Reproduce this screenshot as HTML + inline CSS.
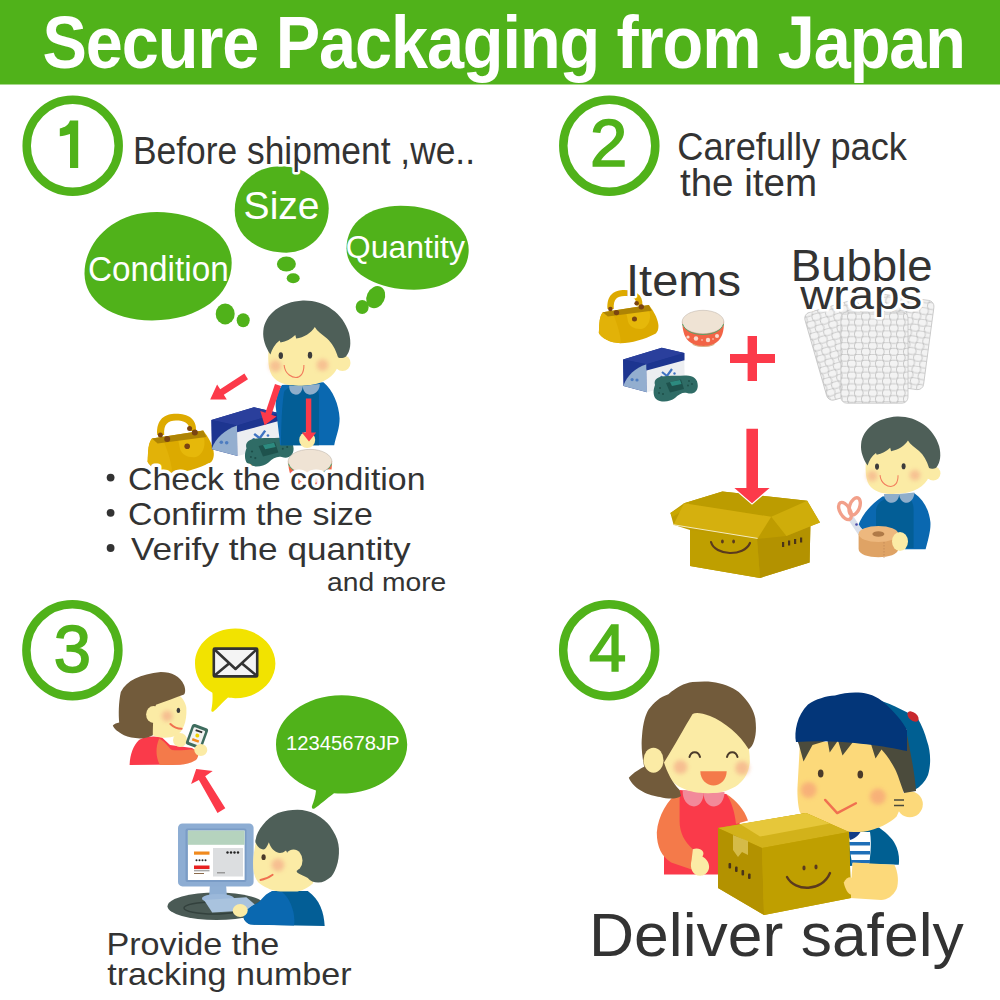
<!DOCTYPE html>
<html><head><meta charset="utf-8">
<style>
html,body{margin:0;padding:0;background:#fff;}
svg{display:block;}
text{font-family:"Liberation Sans",sans-serif;}
</style></head>
<body>
<svg width="1000" height="1000" viewBox="0 0 1000 1000">
<defs>
  <filter id="blur" x="-50%" y="-50%" width="200%" height="200%"><feGaussianBlur stdDeviation="2.2"/></filter>

  <g id="boyhead">
    <circle cx="92.5" cy="63" r="8" fill="#FBEBA5"/>
    <path d="M19.5,42 C17,58 18,72 24,78 C32,86 44,86 55,85.5 C70,85 84,78 88,66 L89,50 L86,30 L60,18 L30,30 Z" fill="#FBEBA5"/>
    <path d="M20.4,54.5 C15.5,47 12.5,39 13.3,31 C15,14 31,2 52.8,0.6 C74,0 93,13 99,33 C101.5,43 100.5,51 96,56.5 C93,58.5 90,58.5 88,57.2 C85.5,49 82,43 77,38.5 C72,34.5 67,31 64.8,27 C61,33 54,37.5 46.2,38.6 L45.3,35 C41,39 36,41.5 30.5,42.5 L29.6,40.6 C25,44 22,49 20.4,54.5 Z" fill="#4E5F58"/>
    <circle cx="25.5" cy="66" r="6" fill="#F5B48C" opacity="0.75" filter="url(#blur)"/>
    <circle cx="72.5" cy="65" r="6" fill="#F5B48C" opacity="0.75" filter="url(#blur)"/>
    <ellipse cx="30.8" cy="55.6" rx="2.2" ry="3.4" fill="#3C3C3C"/>
    <ellipse cx="60" cy="55.2" rx="2.2" ry="3.4" fill="#3C3C3C"/>
    <path d="M34.1,65 C35,75 43,77.5 46,77.5 C50,77.5 54,74 53.9,65" fill="none" stroke="#F27A5C" stroke-width="1.1"/>
  </g>
  <g id="bag">
    <path d="M17.2,30 C16,14 25,8.8 36,8.8 C48,8.8 57,14 56,26 L49.5,26 C50,18 44,15.5 36,15.5 C28,15.5 23.5,19 24.2,30 Z" fill="#DDAA00"/>
    <path d="M8,48 C8.5,40 10,36 12,33.6 L63.2,25.6 C68,32 72,38 73.6,46.4 C74.5,52 72.5,56 70.4,57.6 C58,64 44,68 32,68 C20,68 10,62 7.6,56.8 Z" fill="#DCAA00"/>
    <path d="M24,37 C30,52 32,62 32,68 C20,68 10,62 7.6,56.8 L8,48 C8.5,40 10,36 12,33.6 Z" fill="#E2B208"/>
    <path d="M38,34 C50,31 60,30 64,33 C66,42 62,50 56,52 C48,53 42,50 40,44 Z" fill="#E6B80A"/>
    <path d="M12,33.6 L63.2,25.6 L66.4,32 L17.6,38.4 Z" fill="#AE8404"/>
    <g fill="#7A4412">
      <circle cx="20.4" cy="30" r="2.5"/><circle cx="27.2" cy="34" r="3"/>
      <circle cx="49.6" cy="23.6" r="2.5"/><circle cx="54.8" cy="27.6" r="3"/>
      <circle cx="47.2" cy="41.2" r="2.8"/>
    </g>
  </g>
  <g id="gamebox">
    <path d="M8.1,19.4 L46.8,7.7 L69.3,13.1 L69.3,20.3 L31.5,30.6 L8.6,45.9 Z" fill="#1D3590"/>
    <path d="M8.1,19.4 L46.8,7.7 L69.3,13.1 L31.5,24.3 Z" fill="#2A3F9C"/>
    <path d="M8.1,19.4 L31.5,24.3 L32,52.2 L8.6,45.9 Z" fill="#1D3590"/>
    <path d="M8.6,45 C12,36 20,28 31.5,24.3 L32,52.2 L8.6,45.9 Z" fill="#93AECF"/>
    <path d="M31.5,29.5 L69.3,19.3 L69.7,42.3 L32,52.2 Z" fill="#ECEEF1"/>
    <path d="M31.5,24.3 L69.3,13.1 L69.3,20.3 L31.5,30.6 Z" fill="#1D3590"/>
    <path d="M47,32 L52,36 L57,29" fill="none" stroke="#3F73C2" stroke-width="2.2"/>
    <circle cx="46.5" cy="37" r="1.2" fill="#3F73C2"/><circle cx="59.5" cy="33.5" r="1.2" fill="#3F73C2"/>
    <circle cx="17.1" cy="39.6" r="1.6" fill="#4D7CC0"/><circle cx="22" cy="40" r="1.6" fill="#4D7CC0"/>
    <path d="M40,45 C38,39 44,36 52,36 C58,35.5 64,36 70,35.5 C78,35 83,39 82.8,46 C82.5,52 78,55 72,53 C68,52 64,54 60,58 C55,62 46,63 41,59 C38,56 38,50 40,45 Z" fill="#2F6C66"/>
    <path d="M51,43 L66,39.5 L69,49 L55,52.5 Z" fill="#1E524D"/>
    <path d="M55,42 L65,40 L66.5,44 L57,46 Z" fill="#2C8A7F"/>
    <g fill="#1E4E49"><circle cx="45" cy="48" r="1"/><circle cx="48" cy="54" r="1"/><circle cx="44" cy="53" r="0.9"/><circle cx="74" cy="41" r="0.9"/><circle cx="77" cy="44" r="0.9"/><circle cx="73" cy="45.5" r="0.9"/></g>
  </g>
  <g id="bowl">
    <path d="M7.2,16.5 C7.5,27 10,34 15.5,37.5 L18.7,39.6 C22,41.5 25,41.8 28.6,41.8 C32,41.8 35,41.5 38.5,39.6 L42,37 C47,33 49,27 49,16.5 Z" fill="#F26446"/>
    <path d="M16.5,37.5 C20,42 37,42 40.5,37.5 L39,40 C35,42.5 22,42.5 18,40 Z" fill="#D8B48A"/>
    <ellipse cx="28" cy="17" rx="20.9" ry="11.7" fill="#EFE3D4" stroke="#B8AFA5" stroke-width="0.5"/>
    <path d="M7.5,19 C10,26 18,29.5 28,29.5 C38,29.5 46,26 48.6,19" fill="none" stroke="#4DA86A" stroke-width="0.9"/>
    <g fill="#FCE7DC" opacity="0.9"><circle cx="13" cy="32" r="1.6"/><circle cx="21" cy="33.5" r="2.2"/><circle cx="33" cy="35" r="2.2"/><circle cx="42" cy="31" r="2"/><circle cx="27" cy="35" r="0.8"/><circle cx="38" cy="34" r="0.8"/></g>
  </g>
  <g id="arrowhead"><path d="M-8,0 L8,0 L0,10 Z"/></g>

  <pattern id="bub" x="0" y="0" width="14" height="11.8" patternUnits="userSpaceOnUse">
    <rect width="14" height="11.8" fill="#F3F3F3"/>
    <rect x="0.5" y="0.3" width="8.6" height="6.8" rx="2.6" fill="none" stroke="#ABABAB" stroke-width="0.6"/>
    <rect x="7.5" y="6.2" width="8.6" height="6.8" rx="2.6" fill="none" stroke="#ABABAB" stroke-width="0.6"/>
    <rect x="-6.5" y="6.2" width="8.6" height="6.8" rx="2.6" fill="none" stroke="#ABABAB" stroke-width="0.6"/>
    <rect x="7.5" y="-5.6" width="8.6" height="6.8" rx="2.6" fill="none" stroke="#ABABAB" stroke-width="0.6"/>
    <rect x="-6.5" y="-5.6" width="8.6" height="6.8" rx="2.6" fill="none" stroke="#ABABAB" stroke-width="0.6"/>
  </pattern>
</defs>
<rect width="1000" height="1000" fill="#fff"/>
<!-- header -->
<rect x="0" y="0" width="1000" height="84.5" fill="#50B21A"/>
<g transform="translate(42.5,68) scale(0.9,1)"><text x="0" y="0" font-size="74" font-weight="bold" fill="#fff" textLength="1026" lengthAdjust="spacing">Secure Packaging from Japan</text></g>

<!-- number circles -->
<g fill="none" stroke="#50B21A" stroke-width="8.5">
  <circle cx="72.7" cy="145.8" r="46"/>
  <circle cx="609.3" cy="145.7" r="46"/>
  <circle cx="72.4" cy="650.3" r="46"/>
  <circle cx="609.2" cy="650.3" r="46"/>
</g>
<path d="M70,120.6 L78.2,120.6 L78.2,168 L70,168 L70,134 C66.5,135 63,136 59.8,136.3 L59.8,128.4 C65,127.6 68.5,125 70,120.6 Z" fill="#50B21A"/>
<g fill="#50B21A" stroke="#50B21A" stroke-width="1.6" font-size="67" text-anchor="middle">
  <text x="608.7" y="166.3">2</text>
  <text x="72.4" y="671.7">3</text>
  <text x="607.6" y="671">4</text>
</g>

<!-- thought bubbles step 1 -->
<g fill="#50B21A">
  <path d="M84.5,274 C84,245 110,212 156.8,212 C200,212 231.7,235 231.7,262.8 C231.7,295 200,320.4 152,320.4 C110,320.4 85,300 84.5,274 Z"/>
  <path d="M234.7,210.4 C234.7,184 255,166.3 281,166.3 C307,166.3 328.7,185 328.7,208.6 C328.7,233 310,252.7 286.4,252.7 C258,252.7 234.7,236 234.7,210.4 Z"/>
  <path d="M346.5,248.5 C346.5,222 370,205.8 400.5,205.8 C440,205.8 468.7,225 468.7,250 C468.7,275 445,289.7 414,289.7 C375,289.7 346.5,272 346.5,248.5 Z"/>
  <ellipse cx="225.2" cy="313.9" rx="9.5" ry="10.5"/>
  <ellipse cx="243.2" cy="320.2" rx="6.5" ry="7"/>
  <ellipse cx="286.4" cy="264" rx="9.5" ry="7.5"/>
  <ellipse cx="293.2" cy="278.2" rx="6.5" ry="5"/>
  <ellipse cx="375.7" cy="297.2" rx="9" ry="11.5" transform="rotate(25 375.7 297.2)"/>
  <ellipse cx="362.2" cy="307" rx="6.5" ry="7"/>
</g>
<g fill="#fff">
  <text x="88.0" y="281.2" font-size="35" textLength="140.7" lengthAdjust="spacingAndGlyphs">Condition</text>
  <text x="243.6" y="219.4" font-size="39" textLength="76.0" lengthAdjust="spacingAndGlyphs">Size</text>
  <text x="345.8" y="257.5" font-size="32" textLength="119.2" lengthAdjust="spacingAndGlyphs">Quantity</text>
</g>


<!-- step texts -->
<g fill="#333">
  <text x="133.0" y="163.5" font-size="38" stroke="#fff" stroke-width="5" paint-order="stroke" stroke-linejoin="round" textLength="342.0" lengthAdjust="spacingAndGlyphs">Before shipment ,we..</text>
  <text x="677.2" y="160" font-size="38" textLength="229.8" lengthAdjust="spacingAndGlyphs">Carefully pack</text>
  <text x="680.0" y="196.3" font-size="38" textLength="137.0" lengthAdjust="spacingAndGlyphs">the item</text>
</g>


<!-- step 1 illustration -->
<g id="step1art">
  <use href="#bag" x="0" y="0" transform="translate(140,405)"/>
  <use href="#gamebox" transform="translate(202.5,398.7) scale(1.1)"/>
  <!-- boy body -->
  <path d="M282,384.9 C277,392 275.5,400 275.7,406.5 L280.2,445.2 L334.2,445.2 C336,436 339.8,428 339.6,418.2 C339,405 333,390 323.4,382.2 Z" fill="#0A68B0"/>
  <path d="M284,392 C286,388 292,386 300,386 L314,386 C318,388 319,392 319,398 L319,445.2 L281,445.2 C281,425 282,405 284,392 Z" fill="#035E96"/>
  <use href="#boyhead" transform="translate(250,300)"/>
  <path d="M289.2,386 C289,392 293,395 297,394.6 C300,394.4 302.5,391 302.7,386 Z M302.7,386 C303,392 307,395 311,394.6 C316,394 319.8,390 319.8,384 Z" fill="#8FAECB"/>
  <circle cx="307.2" cy="440" r="8" fill="#FBEBA5"/>
  <g fill="#FC3A4A">
    <path d="M244.4,373.6 L220.2,389.2 L217.1,384.5 L210.2,399.6 L226.8,399.6 L223.8,394.8 L248.0,379.2 Z"/>
    <path d="M275.0,384.0 L265.4,412.8 L260.3,411.1 L264.6,425.2 L276.5,416.5 L271.4,414.8 L281.0,386.0 Z"/>
    <path d="M305.9,398.4 L311.3,398.4 L311.3,432.6 L316.2,432.6 L309,441.6 L301.8,432.6 L305.9,432.6 Z"/>
  </g>
  <use href="#bowl" transform="translate(280.6,443.8) scale(1.05)"/>
</g>

<!-- bullets -->
<g fill="#333">
  <circle cx="110.6" cy="477.6" r="3.9"/>
  <circle cx="110.6" cy="512.8" r="3.9"/>
  <circle cx="110.6" cy="548" r="3.9"/>
  <text x="128.0" y="489.8" font-size="32" stroke="#fff" stroke-width="7" paint-order="stroke" stroke-linejoin="round" textLength="297.5" lengthAdjust="spacingAndGlyphs">Check the condition</text>
  <text x="128.0" y="524.8" font-size="32" textLength="244.8" lengthAdjust="spacingAndGlyphs">Confirm the size</text>
  <text x="131.0" y="560" font-size="32" textLength="279.6" lengthAdjust="spacingAndGlyphs">Verify the quantity</text>
  <text x="327.0" y="590.9" font-size="26" textLength="119.3" lengthAdjust="spacingAndGlyphs">and more</text>
</g>


<!-- step 2 illustration -->
<g id="step2art">
  <use href="#bag" transform="translate(592,282) scale(0.9)"/>
  <use href="#bowl" transform="translate(675,305)"/>
  <use href="#gamebox" transform="translate(615,340)"/>
  <!-- bubble wraps -->
  <g stroke="#C4C4C4" stroke-width="0.8">
    <rect x="0" y="-91" width="56" height="91" rx="6" fill="url(#bub)" transform="translate(828.4,401.6) rotate(-16)"/>
    <rect x="-56" y="-90" width="56" height="90" rx="6" fill="url(#bub)" transform="translate(922.8,390.4) rotate(7.6)"/>
    <rect x="840.9" y="312" width="67.1" height="91.2" rx="6" fill="url(#bub)" style="fill:url(#bub)"/>
  </g>
  <!-- arrow down -->
  <path d="M757.6,538.4 L771.2,516.8 L786.4,536 Z" fill="#B99900"/>
  <!-- open box -->
  <path d="M670.4,513 L684,503.2 L722.4,491.5 L807.2,500.8 L820,522.4 L810.4,526 L809.6,562.4 L760,578 L690,566 L690,530 L673.6,524.8 Z" fill="#BE9C00"/>
  <path d="M684,503.2 L722.4,491.5 L807.2,500.8 L771.2,516.8 Z" fill="#BC9C00"/>
  <path d="M670.4,513 L688.6,502.4 L690,506 L672.4,517 Z" fill="#C9A700"/>
  <path d="M757,539 L786.4,536 L810.4,526 L809.6,562.4 L760,578 Z" fill="#B39200"/>
  <path d="M690,530 L757,539 L760,578 L690,566 Z" fill="#BF9F00"/>
  <path d="M771.2,516.8 L807.2,500.8 L820,522.4 L786.4,536 Z" fill="#CFAD0A"/>
  <path d="M673.6,524.8 L684,503.2 L771.2,516.8 L757.6,538.4 Z" fill="#D5B00E"/>
  <path d="M673.6,524.8 L757.6,538.4" stroke="#F4EBC0" stroke-width="1"/>
  <path d="M746.4,428.8 L758,428.8 L758,488 L769.6,488 L752,503.2 L734.4,488 L746.4,488 Z" fill="#FC3A4A" stroke="#fff" stroke-width="2.5" paint-order="stroke" stroke-linejoin="miter"/>
  <path d="M711,542 C715,556 744,557 750,543" fill="none" stroke="#5A3A1E" stroke-width="2.2" stroke-linecap="round"/>
  <ellipse cx="722.4" cy="541.5" rx="1.4" ry="2" fill="#5A3A1E"/><ellipse cx="733.6" cy="541.5" rx="1.4" ry="2" fill="#5A3A1E"/>
  <g fill="#4A3418"><rect x="782" y="542" width="2.2" height="5"/><rect x="788" y="540.5" width="2.2" height="5"/><rect x="794" y="539" width="2.2" height="5"/><rect x="800" y="537.5" width="2.2" height="5"/></g>
  <!-- boy 2 -->
  <path d="M882.4,496.4 C870,505 862,515 858,526 L872,536 C880,530 888,528 904.8,549.2 L925.6,549.2 C928,540 931,530 930.4,522 C929,510 924,500 914.4,493.2 Z" fill="#0A68B0"/>
  <path d="M876,510 C877,503 882,499 890,498 L906,497 C911,498 913.6,503 913.6,510 L913.6,548 L876,548 Z" fill="#035E96"/>
  <use href="#boyhead" transform="translate(849,416) scale(0.91)"/>
  <path d="M884,494 C884,500 888,503 892,502.8 C896,502.6 899,499 899.2,494 Z M899.2,494 C899.5,500 903,503 907,502.8 C911,502.4 914.4,498 914.4,492.5 Z" fill="#8FAECB"/>
  <!-- scissors -->
  <path d="M851.5,519 L860.5,532.5" stroke="#D9DFEA" stroke-width="6" stroke-linecap="round"/>
  <circle cx="856.5" cy="524.5" r="1.3" fill="#4A4AA8"/>
  <g fill="none" stroke="#F2A08A" stroke-width="3.4">
    <ellipse cx="845" cy="511" rx="5" ry="9.5" transform="rotate(-30 845 511)"/>
    <ellipse cx="854.7" cy="506.4" rx="5" ry="9" transform="rotate(20 854.7 506.4)"/>
  </g>
  <!-- tape -->
  <path d="M858.6,534 L858.6,549 C858.6,560 898.2,560 898.2,549 L898.2,534 Z" fill="#DFA365"/>
  <ellipse cx="878.4" cy="534" rx="19.8" ry="8" fill="#EDB87E"/>
  <ellipse cx="878.4" cy="534" rx="6" ry="2.8" fill="#B07A48"/>
  <path d="M884,542 L884,558" stroke="#B98250" stroke-width="0.6" stroke-dasharray="1.5,1.5"/>
  <ellipse cx="900" cy="541.5" rx="8" ry="9.5" fill="#FBEBA5"/>
</g>

<!-- step 2 labels -->
<g fill="#333">
  <text x="626.0" y="295.5" font-size="45" stroke="#fff" stroke-width="5" paint-order="stroke" stroke-linejoin="round" textLength="115.0" lengthAdjust="spacingAndGlyphs">Items</text>
  <text x="790.8" y="280.8" font-size="44" textLength="141.8" lengthAdjust="spacingAndGlyphs">Bubble</text>
  <text x="800.2" y="308.8" font-size="40" stroke="#fff" stroke-width="5" paint-order="stroke" stroke-linejoin="round" textLength="122.0" lengthAdjust="spacingAndGlyphs">wraps</text>
</g>
<!-- plus -->
<g fill="#FC3A4A">
  <rect x="747.6" y="336" width="9.4" height="45"/>
  <rect x="730" y="354" width="45" height="9"/>
</g>

<!-- step 3 bubbles -->

<!-- step 3 illustration -->
<g id="step3art">
  <!-- girl with phone -->
  <path d="M129.6,765 C130,755 133,746 139,740 C146,736 155,736 162,737.5 L170,745 L192,748 L198,752 C197,758 190,763 180,764.5 Z" fill="#FA3A4A"/>
  <path d="M159.2,738.4 C166,742 169,748 172,750 C180,751 190,749 196,749.6 C199,752 199,757 196,760 C190,764 182,765 172,765 L160,765 C156,758 155,748 159.2,738.4 Z" fill="#F47A4A"/>
  <path d="M148,701.6 C145,712 147,727 152.8,735.2 C158,738 168,739 176.8,735.2 C183,731 187,722 186.4,708 C185,700 180,694 172,692 L150,696 Z" fill="#FBEBA5"/>
  <path d="M120.8,692 C127,680 140,674.4 160.8,672 C172,672 180,676 184,685 C186,690 185,694 184,694.4 C175,698 165,701 156,704.8 C153,712 153,725 152.8,735.2 C148,737.5 144,738.5 140,738.4 C134,738 128,737 124,735.2 C118,732 114,729 112.8,725.6 C114,723.5 117,723 119.2,722.4 C118.5,714 118.5,703 120.8,692 Z" fill="#725B3B"/>
  <ellipse cx="153.6" cy="714.4" rx="7.5" ry="8.5" fill="#FBEBA5"/>
  <circle cx="167.2" cy="716" r="5.5" fill="#F5B48C" opacity="0.8" filter="url(#blur)"/>
  <ellipse cx="178.4" cy="710.4" rx="1.8" ry="2.6" fill="#3C3C3C"/>
  <path d="M170.4,724 C174,727.5 178,728.8 181.6,728.8" fill="none" stroke="#F07050" stroke-width="2" stroke-linecap="round"/>
  <circle cx="180" cy="740" r="7" fill="#FBEBA5"/>
  <g transform="translate(0,2.5) rotate(20 197 734)">
    <rect x="188.5" y="723" width="17" height="22" rx="2.5" fill="#3E6C5E"/>
    <rect x="191" y="726" width="12" height="16" rx="1" fill="#F2F2F0"/>
    <rect x="193.5" y="727.5" width="7" height="1.8" fill="#333"/>
    <circle cx="197" cy="733" r="2" fill="#F2D200"/>
    <rect x="193.5" y="737" width="7" height="2.5" fill="#F08A1E"/>
  </g>
  <ellipse cx="200.8" cy="750" rx="6.5" ry="6" fill="#FBEBA5"/>
  <!-- arrow up -->
  <path d="M196.2,769 L212.7,771.1 L205.2,776.2 L225.3,808.3 L217.5,813.1 L198.9,780.1 L191.1,784 Z" fill="#FC3A4A"/>
  <!-- computer -->
  <ellipse cx="216.5" cy="906.2" rx="49" ry="13.8" fill="#4A5A55"/>
  <ellipse cx="214" cy="908" rx="30" ry="6" fill="none" stroke="#33413D" stroke-width="1.5"/>
  <path d="M210,884 L226,884 L227,898 L209,898 Z" fill="#8FAFD4"/>
  <ellipse cx="218" cy="898.5" rx="16" ry="4.5" fill="#9BB8DA"/>
  <path d="M204,900 L246.4,897.2 L260.8,909.8 L212.2,912.5 Z" fill="#A9C3DE"/>
  <rect x="178" y="823.4" width="75.6" height="63" rx="4.5" fill="#8DADD3"/>
  <rect x="185.5" y="828.5" width="61" height="53.5" rx="2" fill="#7A9CC6"/>
  <rect x="187.9" y="830.6" width="56.7" height="49.4" fill="#FFFFFF"/>
  <rect x="187.9" y="830.6" width="56.7" height="14.2" fill="#B5D3BE"/>
  <rect x="213" y="848" width="30" height="28.5" fill="#DCDEE0"/>
  <rect x="194" y="851.5" width="15.5" height="3.2" fill="#F08A1E"/>
  <rect x="194" y="865.5" width="15.5" height="3.5" fill="#E82020"/>
  <rect x="194" y="869.8" width="15.5" height="1.6" fill="#AAA"/>
  <rect x="194" y="873" width="10" height="1" fill="#8A6A4A"/>
  <g fill="#222"><circle cx="196.5" cy="860.2" r="1"/><circle cx="199.5" cy="860.2" r="1"/><circle cx="202.5" cy="860.2" r="1"/><circle cx="205.5" cy="860.2" r="1"/>
  <circle cx="227.5" cy="852.5" r="1.2"/><circle cx="231" cy="852.5" r="1.2"/><circle cx="234.5" cy="852.5" r="1.2"/><circle cx="238" cy="852.5" r="1.2"/></g>
  <rect x="217" y="872" width="8" height="1.5" fill="#999"/>
  <!-- boy 3 -->
  <path d="M272.7,891 C268,893 266,897 264.9,898.8 C258,903 250,906 246.7,910.5 C243.5,914 243,918 244.1,919.6 C246,923 250,924.8 254.5,924.8 L324.7,926.1 C324,912 320,900 307.8,891 Z" fill="#035E96"/>
  <path d="M272.7,891 C266,893 262,899 258,903 C252,906 247,909 244.5,913 C243,917 244,922 250,924.5 L294,925.5 C296,913 290,898 282,892 Z" fill="#0A68B0"/>
  <ellipse cx="240.2" cy="910.5" rx="7.5" ry="6.5" fill="#FBEBA5"/>
  <path d="M254.5,849.4 C253,858 252.5,866 253.9,872.8 C255,878 257,882 261,884.5 C266,888 273,891 280.5,891.5 L297.4,891.5 C304,890 309,887 313,883.2 L318,860 L290,830 L256,840 Z" fill="#FBEBA5"/>
  <path d="M255.4,842.3 C255.2,841 255.4,840 255.8,839 C257,831 266,818 277.9,813 C285,810.5 291,809.8 297.4,809.8 C304,809.8 310,811.5 315.6,814.3 C322,818 327,822 329.9,826 C334,832 337.5,838 338.4,844.2 C339.5,850 339,857 337.7,862.4 C336,869 334,873 331.2,876.7 C327,880 323,882.5 318.2,882.6 C314,882.5 310,881 307.8,878 C304,876 300,874.5 297.4,872.8 L286,850.4 C283,853 279.5,853.5 277,852.2 C273,851 270,846 268.9,842.3 C267,847 265.5,849.5 263.5,849.5 C260,849.5 257,846 255.4,842.3 Z" fill="#4E5F58"/>
  <ellipse cx="293.5" cy="860.5" rx="9" ry="11" fill="#FBEBA5"/>
  <circle cx="277.9" cy="865" r="6.5" fill="#F5B48C" opacity="0.8" filter="url(#blur)"/>
  <ellipse cx="263.6" cy="857.2" rx="2.1" ry="2.9" fill="#4A3A2A"/>
  <path d="M260.4,880 C264,879.5 269,877.5 272.7,874.8" fill="none" stroke="#F07050" stroke-width="1.8" stroke-linecap="round"/>
</g>

<path d="M235.2,628.6 C257.4,628.6 275.4,644.2 275.4,663.4 C275.4,682.6 257.4,698.2 235.2,698.2 C232.5,698.2 230,698 228,697.6 C222,703 217,709 213.5,711.5 C211.5,712.5 211,711 211.5,709 C212.5,704 212.8,698 212.4,692.8 C201.5,686.5 195,675.7 195,663.4 C195,644.2 213,628.6 235.2,628.6 Z" fill="#F2E300"/>
<rect x="213.8" y="648.6" width="43.4" height="27.8" rx="1" fill="#F4F4F4" stroke="#333" stroke-width="2.6" stroke-linejoin="round"/>
<path d="M214,649 L235.5,669 L257,649 M214,676 L229,663.5 M257,676 L242,663.5" fill="none" stroke="#333" stroke-width="2.6" stroke-linejoin="round"/>

<path d="M341.6,695.2 C377.8,695.2 407.2,717.2 407.2,744.4 C407.2,771.6 377.8,793.6 341.6,793.6 C339,793.6 336.5,793.5 334,793.3 C326,799 320,805 314.5,808.5 C312.5,809.5 311.5,808 312,806 C314,801 315.5,796 316,790.4 C292.5,782.8 276,765 276,744.4 C276,717.2 305.4,695.2 341.6,695.2 Z" fill="#50B21A"/>
<text x="286.0" y="749.9" font-size="19.5" fill="#fff" textLength="113.6" lengthAdjust="spacingAndGlyphs">12345678JP</text>


<!-- step 4 illustration -->
<g id="step4art">
  <!-- girl 4 -->
  <path d="M679.6,790 L726.4,794 C735,805 740,815 740,830 L738,874.4 L664,874.4 L664,855 C668,830 672,805 679.6,790 Z" fill="#FA3A4A"/>
  <path d="M726.4,794 C736,800 744.4,809.6 748,820.4 L736,824 C734.8,812 731.2,801 726.4,794 Z" fill="#F47A4A"/>
  <path d="M679.6,790.4 C667.6,800 658,815.6 656.8,832.4 C656.8,846.8 661.6,856.4 671.2,862.4 L691.6,869.6 L692.8,849.2 C684.4,842 679.6,832.4 679.6,821.6 Z" fill="#F47A4A"/>
  <path d="M682.7,790 C682,800 688,806.4 694,806.4 C700,806.4 703.6,800 703.6,793 Z M703.6,793 C703.6,801 708,806.4 714,806.4 C720,806.4 724.5,800 724.5,792 Z" fill="#F28A9A"/>
  <path d="M664,762.4 C663,740 672,712 700,704 C730,700 750,728 749.8,762.4 C748,780 735,793 708,793.2 C680,793 665,780 664,762.4 Z" fill="#FBEBA5"/>
  <path d="M628.8,777.8 C634,772 640,769 644.2,766.8 C642,756 641,745 642,736 C643,722 646,714 648.6,709.6 C654,702 660,697 668.4,694.2 C676,688 684,683 692.6,682.1 C702,681 712,681 719,683.2 C730,686 738,690 743.2,696.4 C750,704 754,711 755.3,718.4 C756.5,728 756,735 754.2,740.4 C753,745 751,747.5 748.7,749.2 C740,735 725,722 710,716 C702,713 696,712 692.6,714 C684,728 675,745 664,762.4 C667,772 672,782 679.6,790 L681,796 C676,799.5 668,799 660,797 C650,796 634,790 628.8,777.8 Z" fill="#725B3B"/>
  <ellipse cx="653.5" cy="760.2" rx="10" ry="12.5" fill="#FBEBA5"/>
  <circle cx="680.5" cy="767" r="7" fill="#F5B48C" opacity="0.8" filter="url(#blur)"/>
  <circle cx="742.1" cy="768" r="7" fill="#F5B48C" opacity="0.8" filter="url(#blur)"/>
  <path d="M689.5,757 C691,750.5 698.5,750.5 700,757 M727,757 C728.5,750.5 736,750.5 737.5,757" fill="none" stroke="#4A3A2A" stroke-width="2" stroke-linecap="round"/>
  <path d="M700.3,771.2 L726.7,771.2 C726.5,780 720,785.5 713.5,785.5 C707,785.5 700.5,780 700.3,771.2 Z" fill="#F47A4A"/>
  <path d="M692.8,849.2 C700,846.8 706,851.6 702.4,856.4 C710.8,861.2 712,872 702.4,875.6 C692.8,877 689.2,868.4 691.6,860 Z" fill="#FBEBA5"/>
  <!-- boy 4 body -->
  <path d="M846,829.6 L879,827.4 C888,834 894,840 896.6,847.2 C899,853 899.5,860 898.8,864.8 L868,864 L850,866 Z" fill="#005F92"/>
  <path d="M848.2,838.4 C850,850 852,865 854,871.4 L868,871.4 C870,860 872,845 870,832 L850,832 Z" fill="#FFFFFF"/>
  <g fill="#1E6FB8"><rect x="849" y="842" width="21" height="3.5"/><rect x="850" y="851" width="20" height="3.5"/><rect x="851" y="860" width="19" height="3.5"/></g>
  <path d="M846,829.6 L862,829 C860,834 856,838 850,840 Z" fill="#123C86"/>
  <path d="M852.6,862.6 L894.4,864.8 C898,872 899,882 896.6,889 C893,896 887,900 881.2,900 L850,898 Z" fill="#FCD97A"/>
  <!-- boy 4 head -->
  <path d="M797.6,785.6 C797,795 798,806 799.8,812 C806,822 814,828 824,829.6 C838,832 852,832.5 863.6,831.8 C878,829 890,823 896.6,816.4 C902,806 904,796 903.2,790 L900,742 L800,742 Z" fill="#FCD97A"/>
  <circle cx="909.8" cy="804.3" r="13" fill="#FCD97A"/>
  <path d="M894,800 L904,800 M894,805.5 L904,805.5" stroke="#4A4A3C" stroke-width="1.6"/>
  <path d="M874,698.5 C887,702 903,710 917.5,718 C922,726 925,733 927,741 C931,752 931,765 928,775 C925,782 920,787 914.5,790 L904,778 L907,751 L907,730 Z" fill="#005F92"/>
  <path d="M796,737 L907,735 C911,755 915,775 916,791 L904,793 C900,782 898,775 895,769 C890,760 886,754 881.5,749.5 L875.5,758.5 L871,744 L853,742 L842.5,755.5 L838,740.5 L829.7,752.5 L827.5,740.5 L812.5,745 L803.5,761.5 L799,745 Z" fill="#4B4B3C"/>
  <path d="M796,742 C794,732 797,715 808,704.5 C816,699 826,696 835,695.5 C845,692.5 858,691.5 868,694 C874,695.5 878,698 882,701 C895,712 903,722 907,730 L907,751 C880,745 835,739 796,742 Z" fill="#033679"/>
  <ellipse cx="913" cy="716.5" rx="6.5" ry="4" transform="rotate(40 913 716.5)" fill="#C8282E"/>
  <circle cx="808.6" cy="790" r="8" fill="#F7A878" opacity="0.8" filter="url(#blur)"/>
  <circle cx="877.9" cy="796.6" r="8" fill="#F7A878" opacity="0.8" filter="url(#blur)"/>
  <ellipse cx="820.7" cy="773.5" rx="2.8" ry="4" fill="#4A3A2A"/>
  <ellipse cx="860.3" cy="774.6" rx="2.8" ry="4" fill="#4A3A2A"/>
  <path d="M825.1,799.9 L837.2,813.1 L855.9,803.2" fill="none" stroke="#F07050" stroke-width="2.4" stroke-linecap="round" stroke-linejoin="round"/>
  <!-- box 4 -->
  <path d="M718,828 L806,813 L849,832 L851,898 L764,915 L718,888 Z" fill="#C4A200"/>
  <path d="M718,828 L806,813 L849,832 L762,848 Z" fill="#D2B21A"/>
  <path d="M740,824 L806,813 L830,823.5 L760,836.5 Z" fill="#E6C73A"/>
  <path d="M718,828 L762,848 L764,915 L718,888 Z" fill="#B39200"/>
  <path d="M733,835 L748,841 L748,855 L742,852 L738,857 L733,850 Z" fill="#D8C050" opacity="0.9"/>
  <path d="M762,848 L849,832 L851,898 L764,915 Z" fill="#BF9F00"/>
  <path d="M787,877 C795,892 822,892 830,873" fill="none" stroke="#5A3A1E" stroke-width="2.4" stroke-linecap="round"/>
  <ellipse cx="804" cy="868" rx="1.6" ry="2.4" fill="#5A3A1E"/><ellipse cx="816" cy="867" rx="1.6" ry="2.4" fill="#5A3A1E"/>
  <g fill="#4A3418"><rect x="728.5" y="863" width="2.6" height="5.5" rx="1"/><rect x="735" y="866.5" width="2.6" height="5.5" rx="1"/><rect x="741.5" y="870" width="2.6" height="5.5" rx="1"/><rect x="748" y="873.5" width="2.6" height="5.5" rx="1"/></g>
  <path d="M843.8,882.4 C846,878 850,876 852,878 L852,895 C848,894 845,889 843.8,882.4 Z" fill="#FCD97A"/>
</g>

<g fill="#333">
  <text x="106.4" y="955.1" font-size="30.5" textLength="173.0" lengthAdjust="spacingAndGlyphs">Provide the</text>
  <text x="107.2" y="984.5" font-size="30.5" textLength="244.4" lengthAdjust="spacingAndGlyphs">tracking number</text>
  <text x="589.0" y="955.8" font-size="61" textLength="374.8" lengthAdjust="spacingAndGlyphs">Deliver safely</text>
</g>
</svg>
</body></html>
